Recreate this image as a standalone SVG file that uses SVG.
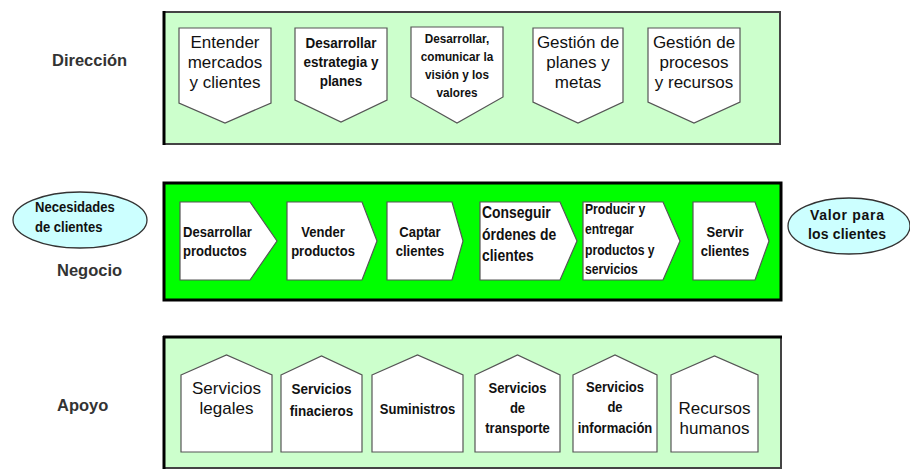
<svg xmlns="http://www.w3.org/2000/svg" width="910" height="470" viewBox="0 0 910 470">
<style>
text{font-family:"Liberation Sans",Arial,sans-serif;fill:#111;text-anchor:middle}
.lbl{font-size:16.5px;font-weight:bold;fill:#333;text-anchor:start}
.shape{fill:#fff;stroke:#555;stroke-width:1.2}
.f17{font-size:17px}
.n{font-weight:bold;font-size:15px}
.n16{font-size:16px}
.n155{font-size:15.5px}
.n14{font-size:14px}
.n135{font-size:13.5px}
.b14{font-size:14px;font-weight:bold}
.st{text-anchor:start}
.ell{fill:#ccffff;stroke:#333;stroke-width:1.3}
</style>
<rect x="0" y="0" width="910" height="470" fill="#fff"/>
<g id="labels">
<text class="lbl" x="52" y="66">Dirección</text>
<text class="lbl" x="57" y="276">Negocio</text>
<text class="lbl" x="57" y="411">Apoyo</text>
</g>
<g id="panel-direccion">
<rect x="164" y="12" width="616" height="132" fill="#ccffcc" stroke="#444" stroke-width="2"/>
<line x1="164" y1="11" x2="164" y2="145" stroke="#000" stroke-width="3"/>
</g>
<g id="panel-negocio">
<rect x="164" y="183" width="617" height="117" fill="#00ff00" stroke="#000" stroke-width="3"/>
</g>
<g id="panel-apoyo">
<rect x="164" y="337" width="617" height="131" fill="#ccffcc" stroke="#444" stroke-width="2"/>
<line x1="163" y1="337" x2="782" y2="337" stroke="#000" stroke-width="3"/>
<line x1="164" y1="336" x2="164" y2="469" stroke="#000" stroke-width="3"/>
</g>
<g id="d1"><path class="shape" d="M179 28H271V103L225 123L179 103Z"/>
<text class="f17" x="225" y="48">Entender</text><text class="f17" x="225" y="68">mercados</text><text class="f17" x="225" y="88">y  clientes</text></g>
<g id="d2"><path class="shape" d="M295 28H387V100L341 122L295 100Z"/>
<text class="n n155" transform="translate(341 48) scale(.87 1)">Desarrollar</text><text class="n n155" transform="translate(341 67) scale(.87 1)">estrategia y</text><text class="n n155" transform="translate(341 86) scale(.87 1)">planes</text></g>
<g id="d3"><path class="shape" d="M411 27H503V97L457 123L411 97Z"/>
<text class="n n135" transform="translate(457 43) scale(.87 1)">Desarrollar,</text><text class="n n135" transform="translate(457 61) scale(.87 1)">comunicar la</text><text class="n n135" transform="translate(457 79) scale(.87 1)">visión y los</text><text class="n n135" transform="translate(457 97) scale(.87 1)">valores</text></g>
<g id="d4"><path class="shape" d="M533 28H623V102L578 123L533 102Z"/>
<text class="f17" x="578" y="48">Gestión de</text><text class="f17" x="578" y="68">planes y</text><text class="f17" x="578" y="88">metas</text></g>
<g id="d5"><path class="shape" d="M648 28H740V102L694 123L648 102Z"/>
<text class="f17" x="694" y="48">Gestión de</text><text class="f17" x="694" y="68">procesos</text><text class="f17" x="694" y="88">y recursos</text></g>
<g id="necesidades"><ellipse class="ell" cx="80" cy="220" rx="67" ry="28"/>
<text class="n st" transform="translate(35 212) scale(.87 1)">Necesidades</text><text class="n st" transform="translate(35 232) scale(.87 1)">de clientes</text></g>
<g id="valor"><ellipse class="ell" cx="849" cy="226" rx="61" ry="28"/>
<text class="b14" x="847" y="220" textLength="74" lengthAdjust="spacing">Valor para</text><text class="b14" x="847" y="239" textLength="78" lengthAdjust="spacing">los clientes</text></g>
<g id="n1"><path class="shape" d="M180 202H250L277 241L250 280H180Z"/>
<text class="n st" transform="translate(183 237) scale(.87 1)">Desarrollar</text><text class="n st" transform="translate(183 256) scale(.87 1)">productos</text></g>
<g id="n2"><path class="shape" d="M287 202H362L377 241L362 280H287Z"/>
<text class="n" transform="translate(323 237) scale(.87 1)">Vender</text><text class="n" transform="translate(323 256) scale(.87 1)">productos</text></g>
<g id="n3"><path class="shape" d="M387 202H452L463 241L452 280H387Z"/>
<text class="n" transform="translate(420 237) scale(.87 1)">Captar</text><text class="n" transform="translate(420 256) scale(.87 1)">clientes</text></g>
<g id="n4"><path class="shape" d="M480 202H560L577 241L560 280H480Z"/>
<text class="n n16 st" transform="translate(482 218) scale(.87 1)">Conseguir</text><text class="n n16 st" transform="translate(482 240) scale(.87 1)">órdenes de</text><text class="n n16 st" transform="translate(482 261) scale(.87 1)">clientes</text></g>
<g id="n5"><path class="shape" d="M583 202H663L680 241L663 280H583Z"/>
<text class="n n14 st" transform="translate(585 214) scale(.87 1)">Producir y</text><text class="n n14 st" transform="translate(585 234) scale(.87 1)">entregar</text><text class="n n14 st" transform="translate(585 255) scale(.87 1)">productos y</text><text class="n n14 st" transform="translate(585 274) scale(.87 1)">servicios</text></g>
<g id="n6"><path class="shape" d="M693 202H755L769 241L755 280H693Z"/>
<text class="n" transform="translate(725 237) scale(.87 1)">Servir</text><text class="n" transform="translate(725 256) scale(.87 1)">clientes</text></g>
<g id="a1"><path class="shape" d="M181 375L226.5 355L272 375V452H181Z"/>
<text class="f17" x="226.5" y="394">Servicios</text><text class="f17" x="226.5" y="414">legales</text></g>
<g id="a2"><path class="shape" d="M281 375L321.5 356L362 375V452H281Z"/>
<text class="n n155" transform="translate(321.5 394) scale(.87 1)">Servicios</text><text class="n n155" transform="translate(321.5 416) scale(.87 1)">finacieros</text></g>
<g id="a3"><path class="shape" d="M372 375L417.5 355L463 375V452H372Z"/>
<text class="n" transform="translate(417.5 414) scale(.87 1)">Suministros</text></g>
<g id="a4"><path class="shape" d="M475 375L517.5 355L560 375V452H475Z"/>
<text class="n" transform="translate(517.5 393) scale(.87 1)">Servicios</text><text class="n" transform="translate(517.5 413) scale(.87 1)">de</text><text class="n" transform="translate(517.5 433) scale(.87 1)">transporte</text></g>
<g id="a5"><path class="shape" d="M573 375L615 355L657 375V452H573Z"/>
<text class="n" transform="translate(615 392) scale(.87 1)">Servicios</text><text class="n" transform="translate(615 412) scale(.87 1)">de</text><text class="n" transform="translate(615 433) scale(.87 1)">información</text></g>
<g id="a6"><path class="shape" d="M671 375L714.5 356L758 375V452H671Z"/>
<text class="f17" x="714.5" y="414">Recursos</text><text class="f17" x="714.5" y="434">humanos</text></g>
<g id="connectors"></g>
</svg>
